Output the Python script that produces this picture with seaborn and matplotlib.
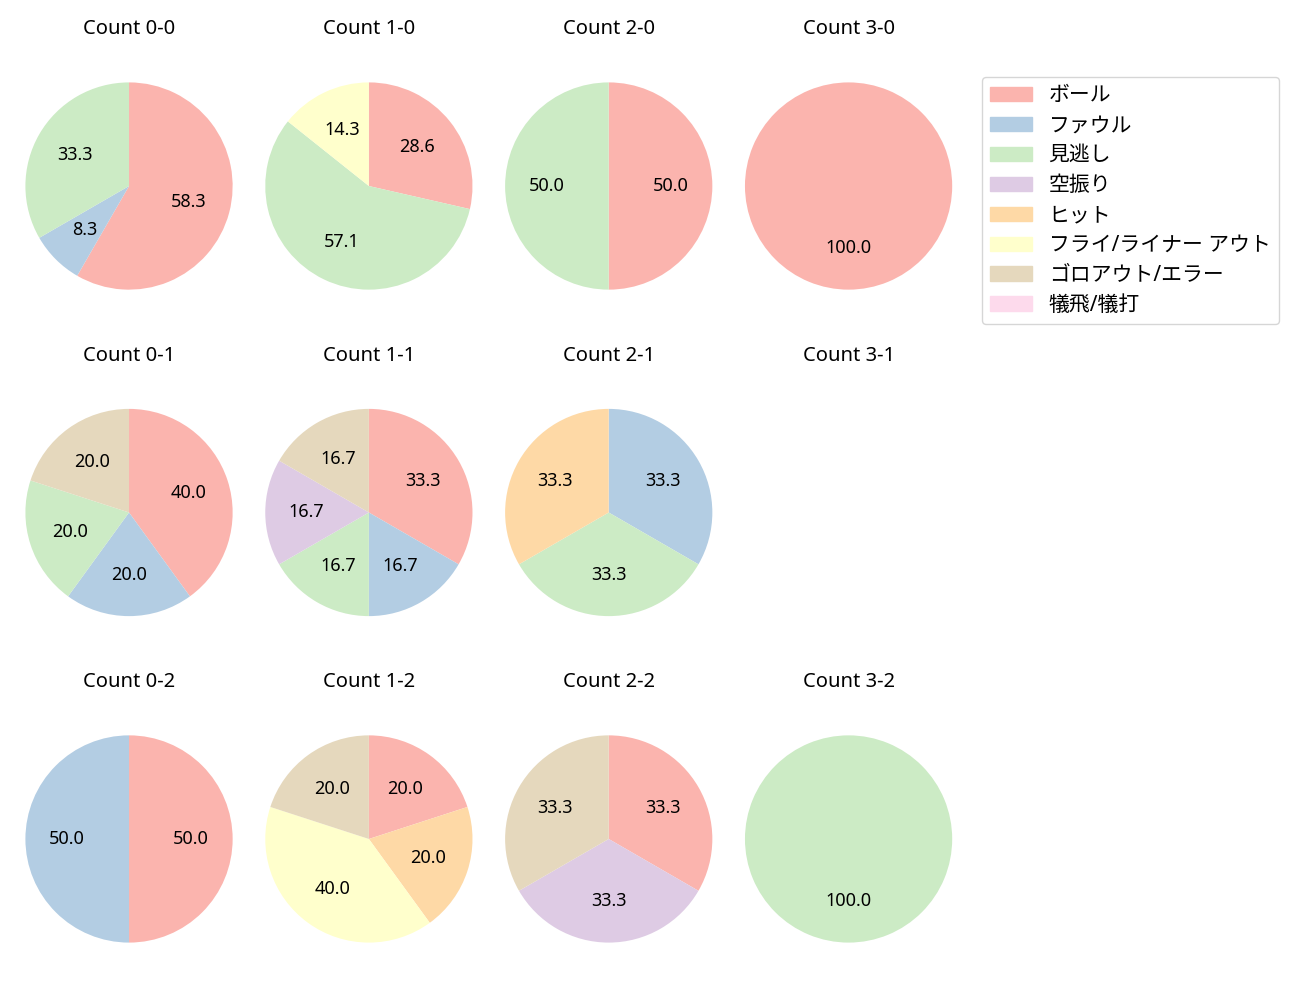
import numpy as np
import seaborn as sns
import matplotlib.pyplot as plt

sns.set_style('white')
plt.rcParams['font.family'] = ['Noto Sans', 'Noto Sans CJK JP', 'DejaVu Sans']
plt.rcParams['text.color'] = 'black'

categories = ['ボール', 'ファウル', '見逃し', '空振り', 'ヒット',
              'フライ/ライナー アウト', 'ゴロアウト/エラー', '犠飛/犠打']

# pitch counts per category, by ball-strike count
counts = {
    '0-0': [7, 1, 4, 0, 0, 0, 0, 0],
    '1-0': [2, 0, 4, 0, 0, 1, 0, 0],
    '2-0': [1, 0, 1, 0, 0, 0, 0, 0],
    '3-0': [1, 0, 0, 0, 0, 0, 0, 0],
    '0-1': [2, 1, 1, 0, 0, 0, 1, 0],
    '1-1': [2, 1, 1, 1, 0, 0, 1, 0],
    '2-1': [0, 1, 1, 0, 1, 0, 0, 0],
    '3-1': [0, 0, 0, 0, 0, 0, 0, 0],
    '0-2': [1, 1, 0, 0, 0, 0, 0, 0],
    '1-2': [1, 0, 0, 0, 1, 2, 1, 0],
    '2-2': [1, 0, 0, 1, 0, 0, 1, 0],
    '3-2': [0, 0, 1, 0, 0, 0, 0, 0],
}

balls = [0, 1, 2, 3]
strikes = [0, 1, 2]

colors = sns.color_palette('Pastel1', 8)

fig, axes = plt.subplots(3, 4, figsize=(13, 10), dpi=100)
plt.subplots_adjust(left=0.007, right=0.745, top=0.934, bottom=0.041,
                    wspace=0.0, hspace=0.36)

for r, s in enumerate(strikes):
    for c, b in enumerate(balls):
        ax = axes[r, c]
        key = f'{b}-{s}'
        vals = np.array(counts[key])
        ax.set_title(f'Count {key}', fontsize=14.5, pad=23)
        if vals.sum() == 0:
            ax.axis('off')
            continue
        idx = np.nonzero(vals)[0]
        ax.pie(vals[idx], colors=[colors[i] for i in idx], startangle=90,
               counterclock=False, autopct='%1.1f', radius=1.08,
               wedgeprops={'linewidth': 0}, textprops={'fontsize': 13})

handles = [plt.Rectangle((0, 0), 1, 1, color=colors[i]) for i in range(8)]
fig.legend(handles, categories, loc='upper left', bbox_to_anchor=(0.7554, 0.923),
           borderaxespad=0, fontsize=15, labelspacing=0.43)

fig.savefig('out.png', dpi=100)
